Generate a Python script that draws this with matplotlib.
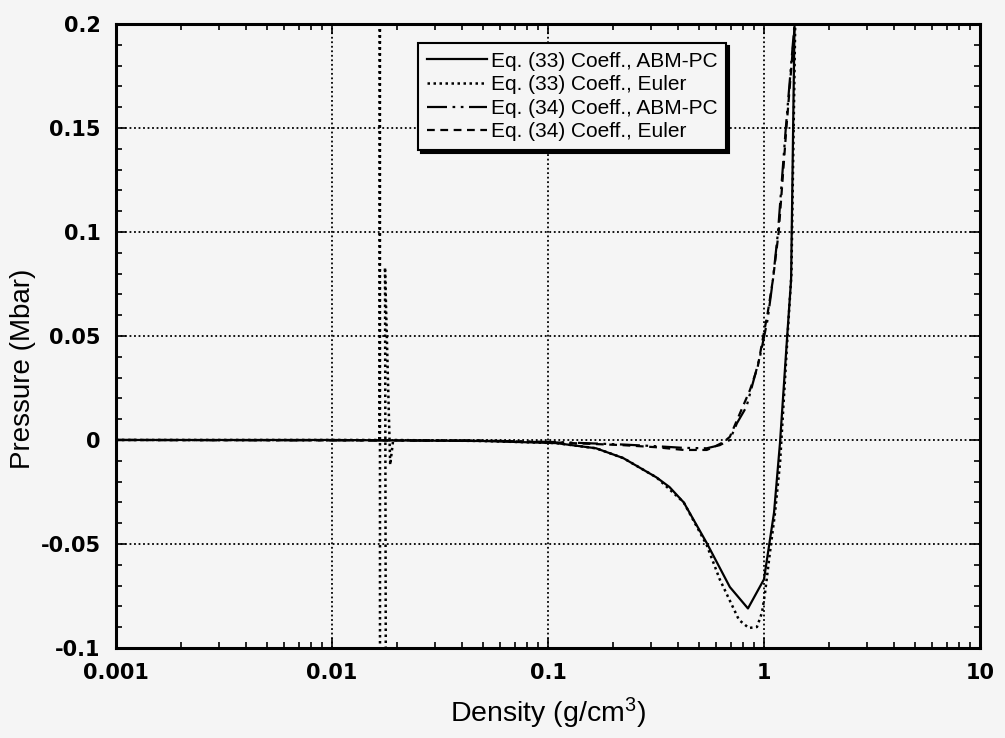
import matplotlib.pyplot as plt
from matplotlib.ticker import FixedLocator, FixedFormatter, MultipleLocator, LogLocator, NullFormatter

plt.rcParams['mathtext.default'] = 'regular'

# Eq. (33) coefficients, ABM-PC integrator
rho_33_abm = [0.001, 0.01, 0.05, 0.109, 0.167, 0.223, 0.318, 0.365, 0.425, 0.543,
              0.695, 0.843, 1.0, 1.113, 1.186, 1.28, 1.335, 1.385]
p_33_abm = [0.0, 0.0, -0.0005, -0.0015, -0.004, -0.0087, -0.018, -0.0226, -0.030, -0.0495,
            -0.0707, -0.081, -0.067, -0.035, -0.0015, 0.0495, 0.077, 0.2]

# Eq. (33) coefficients, Euler integrator (blows up near 0.017 g/cm3)
rho_33_eu = [0.001, 0.0166, 0.01667, 0.01669, 0.0179, 0.0176, 0.0186, 0.0192, 0.05, 0.109,
             0.167, 0.223, 0.318, 0.425, 0.543, 0.624, 0.766, 0.851, 0.928, 0.979,
             1.011, 1.066, 1.125, 1.187, 1.285, 1.34, 1.395]
p_33_eu = [0.0, 0.0, 0.3, -0.3, -0.3, 0.083, -0.012, 0.0, -0.0005, -0.0015,
           -0.004, -0.0087, -0.018, -0.030, -0.0505, -0.067, -0.0865, -0.0904, -0.0899, -0.083,
           -0.0736, -0.054, -0.035, -0.011, 0.0495, 0.08, 0.2]

# Eq. (34) coefficients, ABM-PC integrator
rho_34_abm = [0.001, 0.05, 0.109, 0.223, 0.318, 0.425, 0.543, 0.624, 0.695, 0.749,
              0.83, 0.958, 1.04, 1.10, 1.16, 1.26, 1.385]
p_34_abm = [0.0, -0.0003, -0.001, -0.0022, -0.003, -0.0038, -0.004, -0.0025, 0.0, 0.008,
            0.016, 0.040, 0.058, 0.077, 0.0995, 0.149, 0.2]

# Eq. (34) coefficients, Euler integrator
rho_34_eu = [0.001, 0.05, 0.109, 0.223, 0.318, 0.425, 0.543, 0.586, 0.65, 0.695,
             0.861, 0.935, 0.985, 1.04, 1.10, 1.17, 1.27, 1.39]
p_34_eu = [0.0, -0.0003, -0.0012, -0.0025, -0.0035, -0.0048, -0.0048, -0.0034, -0.001, 0.0015,
           0.024, 0.035, 0.048, 0.061, 0.077, 0.1, 0.15, 0.2]

labels = ['Eq. (33) Coeff., ABM-PC', 'Eq. (33) Coeff., Euler',
          'Eq. (34) Coeff., ABM-PC', 'Eq. (34) Coeff., Euler']

x_ticks = [0.001, 0.01, 0.1, 1, 10]
x_tick_labels = ['0.001', '0.01', '0.1', '1', '10']
y_ticks = [-0.1, -0.05, 0, 0.05, 0.1, 0.15, 0.2]
y_tick_labels = ['-0.1', '-0.05', '0', '0.05', '0.1', '0.15', '0.2']

bg = '#f5f5f5'
fig = plt.figure(figsize=(10.05, 7.38), dpi=100, facecolor=bg)
ax = fig.add_axes([0.1154, 0.122, 0.8597, 0.8455], facecolor=bg)

ax.plot(rho_33_abm, p_33_abm, color='black', lw=1.6, label=labels[0], zorder=4)
ax.plot(rho_33_eu, p_33_eu, color='black', lw=1.8, linestyle=(0, (1, 1.4)),
        label=labels[1], zorder=4)
ax.plot(rho_34_abm, p_34_abm, color='black', lw=1.6,
        linestyle=(0, (9, 2.5, 1.2, 2.5, 1.2, 2.5)), label=labels[2], zorder=4)
ax.plot(rho_34_eu, p_34_eu, color='black', lw=1.6, linestyle=(0, (3.5, 2.5)),
        label=labels[3], zorder=4)

ax.set_xscale('log')
ax.set_xlim(0.001, 10)
ax.set_ylim(-0.1, 0.2)

ax.xaxis.set_major_locator(FixedLocator(x_ticks))
ax.xaxis.set_major_formatter(FixedFormatter(x_tick_labels))
ax.xaxis.set_minor_locator(LogLocator(base=10, subs=range(2, 10)))
ax.xaxis.set_minor_formatter(NullFormatter())
ax.yaxis.set_major_locator(FixedLocator(y_ticks))
ax.yaxis.set_major_formatter(FixedFormatter(y_tick_labels))
ax.yaxis.set_minor_locator(MultipleLocator(0.01))

ax.tick_params(which='both', direction='in', top=True, right=True, width=1.2, color='black')
ax.tick_params(which='major', length=7)
ax.tick_params(which='minor', length=4)
ax.tick_params(axis='x', which='major', pad=11)
ax.tick_params(axis='y', which='major', pad=11)
for lab in ax.get_xticklabels() + ax.get_yticklabels():
    lab.set_fontfamily('DejaVu Sans')
    lab.set_fontweight('bold')
    lab.set_fontsize(15)

ax.grid(True, which='major', color='black', lw=1.3, linestyle=(0, (1, 1.5)))
for s in ax.spines.values():
    s.set_linewidth(2.2)

label_font = ['Liberation Sans', 'DejaVu Sans']
ax.set_xlabel('Density (g/cm$^3$)', fontsize=20.5, family=label_font)
ax.set_ylabel('Pressure (Mbar)', fontsize=20, family=label_font)
ax.xaxis.set_label_coords(0.5, -0.077)
ax.yaxis.set_label_coords(-0.093, 0.447)

leg = ax.legend(loc='upper left', bbox_to_anchor=(0.35, 0.969),
                prop={'family': label_font, 'size': 15},
                frameon=True, fancybox=False, shadow={'color': 'black', 'alpha': 1},
                handlelength=2.9, handletextpad=0.2, borderpad=0.4, labelspacing=0.22,
                borderaxespad=0)
leg.get_frame().set_edgecolor('black')
leg.get_frame().set_linewidth(1.5)
leg.get_frame().set_facecolor(bg)
leg.set_zorder(6)

fig.savefig('out.png', dpi=100, facecolor=bg)
